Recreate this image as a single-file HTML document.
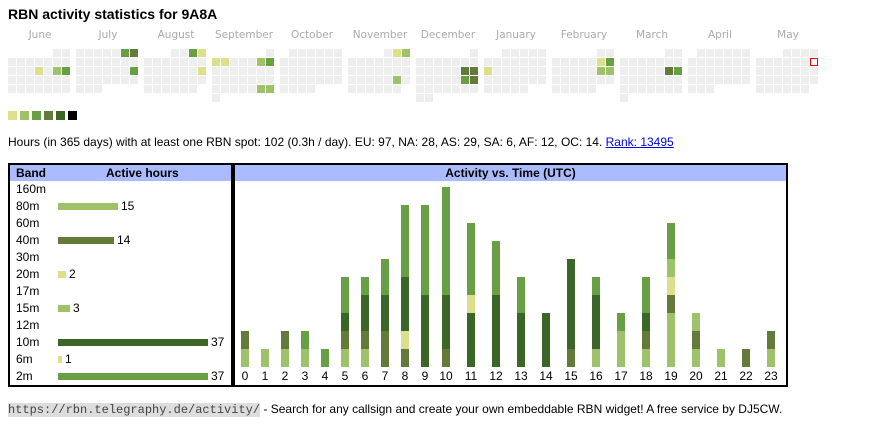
<!DOCTYPE html>
<html><head><meta charset="utf-8"><style>
body{margin:0;width:870px;height:424px;background:#fff;font-family:"Liberation Sans",Arial,sans-serif;position:relative;overflow:hidden}
.a{position:absolute}
h1{position:absolute;left:8px;top:6px;margin:0;font-size:14px;font-weight:bold}
.m{position:absolute;top:29px;width:68px;text-align:center;font-family:"DejaVu Sans",sans-serif;font-size:10.5px;color:#aaa}
.c{position:absolute;width:8px;height:8px;background:#eee}
.lab{position:absolute;font-size:12px;color:#000;white-space:nowrap}
.hl{position:absolute;top:369px;width:20px;text-align:center;font-size:12px}
</style></head><body>
<h1>RBN activity statistics for 9A8A</h1>
<div class="m" style="left:6px">June</div><div class="m" style="left:74px">July</div><div class="m" style="left:142px">August</div><div class="m" style="left:210px">September</div><div class="m" style="left:278px">October</div><div class="m" style="left:346px">November</div><div class="m" style="left:414px">December</div><div class="m" style="left:482px">January</div><div class="m" style="left:550px">February</div><div class="m" style="left:618px">March</div><div class="m" style="left:686px">April</div><div class="m" style="left:754px">May</div>
<div id="hm"></div>
<div class="c" style="left:8px;top:111px;width:9px;height:9px;background:#dde08a"></div><div class="c" style="left:20px;top:111px;width:9px;height:9px;background:#9dc26a"></div><div class="c" style="left:32px;top:111px;width:9px;height:9px;background:#689f45"></div><div class="c" style="left:44px;top:111px;width:9px;height:9px;background:#637a3a"></div><div class="c" style="left:56px;top:111px;width:9px;height:9px;background:#3b6628"></div><div class="c" style="left:68px;top:111px;width:9px;height:9px;background:#000"></div>
<div class="lab" style="left:8px;top:135px">Hours (in 365 days) with at least one RBN spot: 102 (0.3h / day). EU: 97, NA: 28, AS: 29, SA: 6, AF: 12, OC: 14. <span style="color:#00e;text-decoration:underline">Rank: 13495</span></div>
<div class="a" style="left:8px;top:163px;width:221px;height:220px;border:2px solid #000"></div>
<div class="a" style="left:233px;top:163px;width:551px;height:220px;border:2px solid #000"></div>
<div class="a" style="left:10px;top:165px;width:221px;height:16px;background:#aabbff"></div>
<div class="a" style="left:235px;top:165px;width:551px;height:16px;background:#aabbff"></div>
<div class="lab" style="left:16px;top:166px;font-weight:bold">Band</div>
<div class="lab" style="left:106px;top:166px;font-weight:bold">Active hours</div>
<div class="lab" style="left:235px;width:551px;text-align:center;top:166px;font-weight:bold">Activity vs. Time (UTC)</div>
<div class="lab" style="left:16px;top:182px">160m</div>
<div class="lab" style="left:16px;top:199px">80m</div>
<div class="lab" style="left:16px;top:216px">60m</div>
<div class="lab" style="left:16px;top:233px">40m</div>
<div class="lab" style="left:16px;top:250px">30m</div>
<div class="lab" style="left:16px;top:267px">20m</div>
<div class="lab" style="left:16px;top:284px">17m</div>
<div class="lab" style="left:16px;top:301px">15m</div>
<div class="lab" style="left:16px;top:318px">12m</div>
<div class="lab" style="left:16px;top:335px">10m</div>
<div class="lab" style="left:16px;top:352px">6m</div>
<div class="lab" style="left:16px;top:369px">2m</div>
<div class="a" style="left:58px;top:203px;width:60px;height:7px;background:#9dc26a"></div><div class="lab" style="left:121px;top:199px">15</div>
<div class="a" style="left:58px;top:237px;width:56px;height:7px;background:#637a3a"></div><div class="lab" style="left:117px;top:233px">14</div>
<div class="a" style="left:58px;top:271px;width:8px;height:7px;background:#dde08a"></div><div class="lab" style="left:69px;top:267px">2</div>
<div class="a" style="left:58px;top:305px;width:12px;height:7px;background:#9dc26a"></div><div class="lab" style="left:73px;top:301px">3</div>
<div class="a" style="left:58px;top:339px;width:150px;height:7px;background:#3b6628"></div><div class="lab" style="left:211px;top:335px">37</div>
<div class="a" style="left:58px;top:356px;width:4px;height:7px;background:#dde08a"></div><div class="lab" style="left:65px;top:352px">1</div>
<div class="a" style="left:58px;top:373px;width:150px;height:7px;background:#689f45"></div><div class="lab" style="left:211px;top:369px">37</div>
<div id="bars"></div>
<div class="hl" style="left:235px">0</div><div class="hl" style="left:255px">1</div><div class="hl" style="left:275px">2</div><div class="hl" style="left:295px">3</div><div class="hl" style="left:315px">4</div><div class="hl" style="left:335px">5</div><div class="hl" style="left:355px">6</div><div class="hl" style="left:375px">7</div><div class="hl" style="left:395px">8</div><div class="hl" style="left:415px">9</div><div class="hl" style="left:436px">10</div><div class="hl" style="left:461px">11</div><div class="hl" style="left:486px">12</div><div class="hl" style="left:511px">13</div><div class="hl" style="left:536px">14</div><div class="hl" style="left:561px">15</div><div class="hl" style="left:586px">16</div><div class="hl" style="left:611px">17</div><div class="hl" style="left:636px">18</div><div class="hl" style="left:661px">19</div><div class="hl" style="left:686px">20</div><div class="hl" style="left:711px">21</div><div class="hl" style="left:736px">22</div><div class="hl" style="left:761px">23</div>
<div class="lab" style="left:8px;top:402px"><span style="font-family:'Liberation Mono',monospace;background:#ddd;color:#444">https://rbn.telegraphy.de/activity/</span> - Search for any callsign and create your own embeddable RBN widget! A free service by DJ5CW.</div>
<script>
var C={Y:'#dde08a',L:'#9dc26a',G:'#689f45',O:'#637a3a',D:'#3b6628'};
var months=[[5,30],[0,31],[3,31],[6,30],[1,31],[4,30],[6,31],[2,31],[5,28],[5,31],[1,30],[3,31]];
var col={'0,2,3':'Y','0,2,5':'L','0,2,6':'G','1,0,5':'G','1,0,6':'O','1,2,6':'G','2,0,5':'G','2,0,6':'Y','2,2,6':'Y','3,1,0':'Y','3,1,1':'Y','3,1,5':'L','3,1,6':'G','3,4,5':'L','3,4,6':'L','5,0,5':'Y','5,0,6':'L','5,3,5':'L','6,2,5':'O','6,2,6':'O','6,3,5':'G','6,3,6':'O','7,2,0':'Y','8,1,5':'Y','8,1,6':'G','8,2,5':'L','8,2,6':'L','9,2,5':'O','9,2,6':'G'};
var h='';
months.forEach(function(m,i){for(var d=0;d<m[1];d++){var p=m[0]+d,r=Math.floor(p/7),c=p%7;var k=i+','+r+','+c;var bg=col[k]?C[col[k]]:'#eee';var st='left:'+(8+i*68+c*9)+'px;top:'+(49+r*9)+'px;background:'+bg;if(i==11&&d==10)st+=';background:#fff;box-shadow:inset 0 0 0 1px #e00';h+='<div class="c" style="'+st+'"></div>';}});
document.getElementById('hm').innerHTML=h;
var B=['LO','L','LO','LG','G','LODGG','LODDG','OODDGG','OYDDDGGGG','DDDDGGGGG','ODDDGGGGGG','DDDYGGGG','DDDDGGG','DDDGG','DDD','ODDDDD','LDDDG','LLG','LODGG','LLLOYLGG','LOL','L','O','LO'];
var s='';
B.forEach(function(b,i){var x=i<=9?241+20*i:442+25*(i-10);for(var j=0;j<b.length;j++){s+='<div class="a" style="left:'+x+'px;top:'+(367-18*(j+1))+'px;width:8px;height:18px;background:'+C[b[j]]+'"></div>';}});
document.getElementById('bars').innerHTML=s;
</script>
</body></html>
